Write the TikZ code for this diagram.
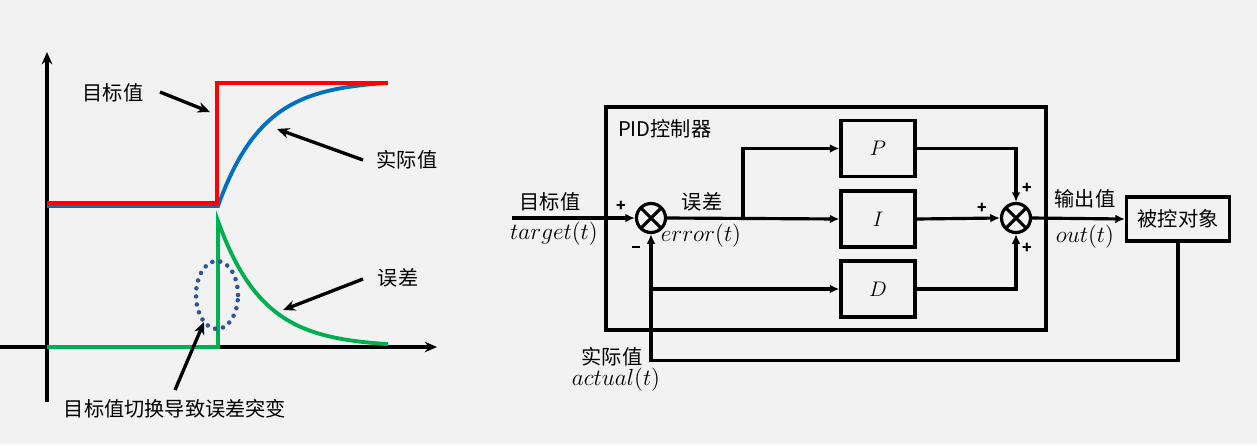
\documentclass[tikz,border=0pt]{standalone}
\usepackage{graphicx}
\usepackage{fontspec}
\newfontfamily\cjk{Noto Sans CJK SC}
\usetikzlibrary{arrows.meta}
\definecolor{bgray}{HTML}{F2F2F2}
\definecolor{tgtred}{HTML}{FF0000}
\definecolor{actblue}{HTML}{0070C0}
\definecolor{errgreen}{HTML}{00B050}
\definecolor{dotblue}{HTML}{2F5597}
\newcommand{\sigtext}[1]{\scalebox{0.92}{$#1$}}

\begin{document}
\begin{tikzpicture}[x=0.02cm, y=-0.02cm,
    every node/.style={font=\cjk\fontsize{11.5}{13}\selectfont, inner sep=1pt},
    blk/.style={draw, line width=1.8pt, minimum width=1.48cm, minimum height=1.12cm, font=\fontsize{12}{14}\selectfont},
    sumnode/.style={draw, circle, line width=1.8pt, minimum size=0.58cm, inner sep=0pt,
        path picture={\draw[line width=1.8pt] (path picture bounding box.south west) -- (path picture bounding box.north east)
            (path picture bounding box.north west) -- (path picture bounding box.south east);}},
    conn/.style={line width=1.8pt, -{Latex[length=5.5pt,width=5pt]}},
    mathlbl/.style={font=\fontsize{14.4}{16}\selectfont},
    sgn/.style={font=\cjk\bfseries\fontsize{9}{10}\selectfont},
    callout/.style={line width=1.9pt, -{Stealth[length=7pt,width=6pt]}},
    curve/.style={line width=2.2pt}]
    \fill[bgray] (0,0) rectangle (1257,444);
    \useasboundingbox (0,0) rectangle (1257,444);

    % left: response curves
    \draw[line width=1.8pt, -{Stealth[length=7pt,width=6pt]}] (47,402) -- (47,52);
    \draw[line width=1.8pt, -{Stealth[length=7pt,width=6pt]}] (0,347) -- (437,347);
    \draw[curve, actblue] (47,206) -- (218,206)
        -- plot[domain=218:388, samples=60] (\x, {206-126*(1-exp(-(\x-218)/45))});
    \draw[curve, tgtred] (47,203) -- (217,203) -- (217,83) -- (388,83);
    \draw[curve, errgreen] (47,347) -- (218,347) -- (218,223)
        -- plot[domain=218:388, samples=60] (\x, {347-126*exp(-(\x-218)/45)});
    \draw[dotblue, line width=2.6pt, line cap=round, dash pattern=on 0pt off 4.6pt]
        (217,295) ellipse [x radius=0.42cm, y radius=0.68cm];

    \node (lblTarget) at (113,93) {目标值};
    \node (lblActual) at (407,160) {实际值};
    \node (lblErr) at (398,278) {误差};
    \node (lblJump) at (175,409) {目标值切换导致误差突变};
    \coordinate (tgtA) at (160,92);  \coordinate (tgtB) at (210,112);
    \coordinate (actA) at (363,160); \coordinate (actB) at (277,129);
    \coordinate (errA) at (363,279); \coordinate (errB) at (283,310);
    \coordinate (jmpA) at (175,390); \coordinate (jmpB) at (204,322);
    \draw[callout] (tgtA) -- (tgtB);
    \draw[callout] (actA) -- (actB);
    \draw[callout] (errA) -- (errB);
    \draw[callout] (jmpA) -- (jmpB);

    % right: PID loop
    \node[draw, line width=1.8pt, minimum width=8.8cm, minimum height=4.46cm] (pid) at (826,218.5) {};
    \node[anchor=west] (pidlbl) at (616,129) {PID控制器};
    \node[sumnode] (sum1) at (651,218) {};
    \node[sumnode] (sum2) at (1016,218) {};
    \node[blk] (Pblk) at (878,148.5) {$P$};
    \node[blk] (Iblk) at (878,219) {$I$};
    \node[blk] (Dblk) at (878,289) {$D$};
    \node[draw, line width=1.8pt, minimum width=2.06cm, minimum height=0.88cm] (plant) at (1178,219) {被控对象};

    \coordinate (in) at (512,218);
    \coordinate (br1) at (743,218);
    \coordinate (br2) at (651,289);
    \draw[conn] (in) -- (sum1.west);
    \draw[conn] (sum1.east) -- (Iblk.west);
    \draw[conn] (br1) |- (Pblk.west);
    \draw[conn] (br2) -- (Dblk.west);
    \draw[conn] (Pblk.east) -| (sum2.north);
    \draw[conn] (Iblk.east) -- (sum2.west);
    \draw[conn] (Dblk.east) -| (sum2.south);
    \draw[conn] (sum2.east) -- (plant.west);
    \draw[conn] (plant.south) -- ++(0,118) -| (sum1.south);

    \node (inlbl) at (550,202) {目标值};
    \node[mathlbl] (inmath) at (554,234) {\sigtext{target(t)}};
    \node[sgn] (s1p) at (621,206) {+};
    \node (s1m) at (636,247) {\rule{5pt}{1.6pt}};
    \node (errlbl) at (702,202) {误差};
    \node[mathlbl] (errmath) at (701,236) {\sigtext{error(t)}};
    \node[sgn] (s2t) at (1027,188) {+};
    \node[sgn] (s2l) at (982,208) {+};
    \node[sgn] (s2b) at (1027,248) {+};
    \node (outlbl) at (1085,199) {输出值};
    \node[mathlbl] (outmath) at (1085,237) {\sigtext{out(t)}};
    \node (fblbl) at (612,357) {实际值};
    \node[mathlbl] (fbmath) at (616,380) {\sigtext{actual(t)}};
\end{tikzpicture}
\end{document}
